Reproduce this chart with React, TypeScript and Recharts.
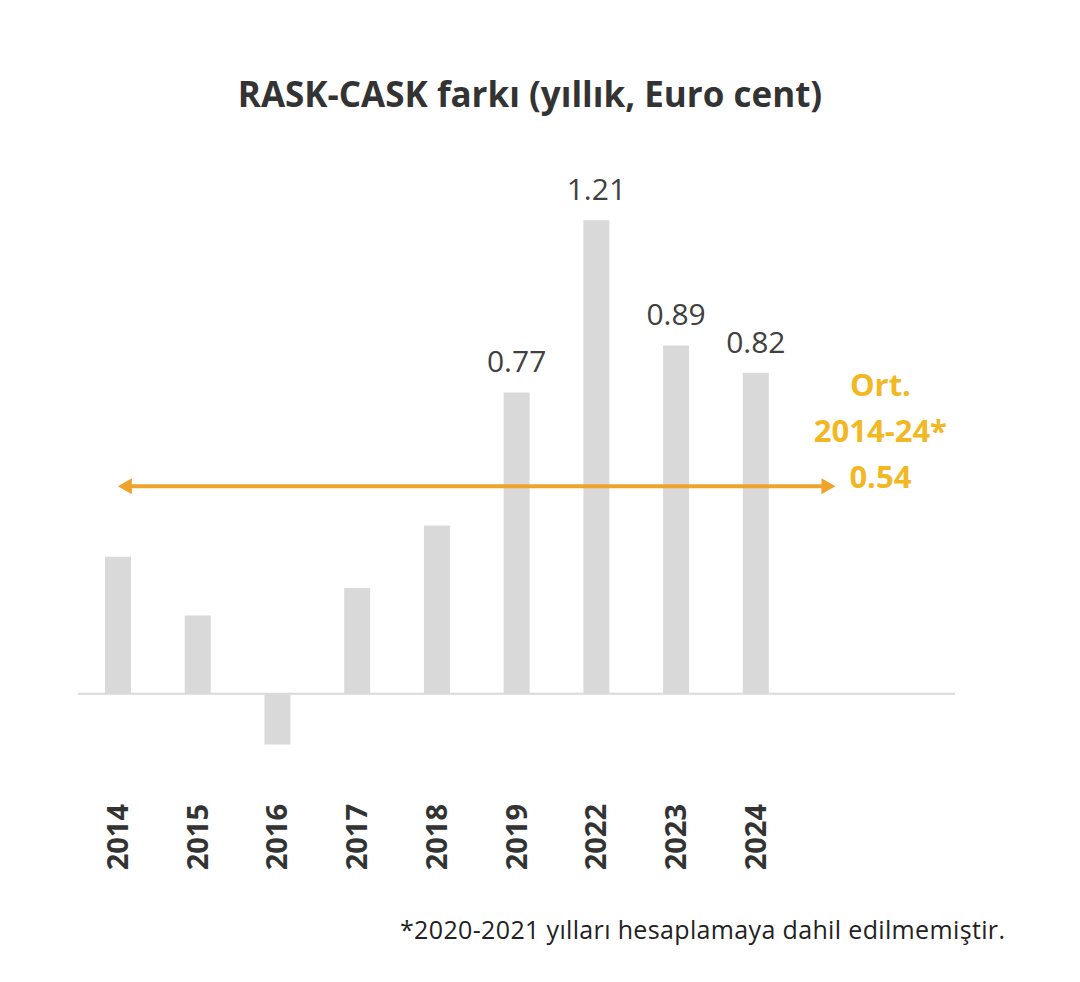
import { ComposedChart, Bar, XAxis, YAxis, ReferenceLine, LabelList } from "recharts"

const years = ["2014", "2015", "2016", "2017", "2018", "2019", "2022", "2023", "2024", " ", "  "]
const spread = [0.35, 0.2, -0.13, 0.27, 0.43, 0.77, 1.21, 0.89, 0.82, null, null]
const labelledYears = ["2019", "2022", "2023", "2024"]
const average = 0.53
const averageLabel = ["Ort.", "2014-24*", "0.54"]

const data = years.map((year, i) => ({ year, value: spread[i] }))

const FONT = "'Open Sans', sans-serif"
const ORANGE = "#F0A32A"
const GOLD = "#F2B824"

// rotated year labels under the plot
const YearTick = (props: any) => {
  const { x, y, payload } = props
  if (!payload.value.trim()) return null
  return (
    <text
      x={0}
      y={0}
      transform={`translate(${x + 10},${y + 24}) rotate(-90)`}
      textAnchor="end"
      fontFamily={FONT}
      fontWeight={700}
      fontSize={29}
      fill="#333"
    >
      {payload.value}
    </text>
  )
}

const ValueLabel = (props: any) => {
  const { x, y, width, value, index } = props
  if (!labelledYears.includes(years[index])) return null
  return (
    <text x={x + width / 2} y={y - 20} textAnchor="middle" fontFamily={FONT} fontSize={30} fill="#404040">
      {value.toFixed(2)}
    </text>
  )
}

// double-headed arrow + text on the right
const AverageArrow = (props: any) => {
  const { x1, y1, x2, y2 } = props
  const head = 14
  return (
    <g>
      <line x1={x1 + 6} y1={y1} x2={x2 - 6} y2={y2} stroke={ORANGE} strokeWidth={4} />
      <polygon points={`${x1},${y1} ${x1 + head},${y1 - 8} ${x1 + head},${y1 + 8}`} fill={ORANGE} />
      <polygon points={`${x2},${y2} ${x2 - head},${y2 - 8} ${x2 - head},${y2 + 8}`} fill={ORANGE} />
      {averageLabel.map((t, i) => (
        <text
          key={t}
          x={x2 + 45}
          y={y2 - 90 + i * 46}
          textAnchor="middle"
          fontFamily={FONT}
          fontWeight={700}
          fontSize={31}
          fill={GOLD}
        >
          {t}
        </text>
      ))}
    </g>
  )
}

export default function App() {
  return (
    <div style={{ position: "absolute", left: 0, top: 0, width: 1080, height: 982, background: "#fff", fontFamily: FONT }}>
      <div
        style={{
          position: "absolute",
          top: 70,
          left: 0,
          width: 1060,
          textAlign: "center",
          fontSize: 35,
          fontWeight: 700,
          color: "#333",
        }}
      >
        RASK-CASK farkı (yıllık, Euro cent)
      </div>
      <ComposedChart
        width={1080}
        height={982}
        data={data}
        margin={{ top: 185, right: 125, left: 78, bottom: 110 }}
      >
        <XAxis dataKey="year" axisLine={false} tickLine={false} tick={<YearTick />} height={100} interval={0} />
        <YAxis hide domain={[-0.2, 1.3]} />
        <ReferenceLine y={0} stroke="#D9D9D9" strokeWidth={2} />
        <Bar dataKey="value" fill="#D9D9D9" barSize={26} isAnimationActive={false}>
          <LabelList dataKey="value" content={<ValueLabel />} />
        </Bar>
        <ReferenceLine
          segment={[
            { x: years[0], y: average },
            { x: years[9], y: average },
          ]}
          shape={<AverageArrow />}
        />
      </ComposedChart>
      <div style={{ position: "absolute", top: 912, left: 400, fontSize: 25, letterSpacing: 0.35, color: "#222" }}>
        *2020-2021 yılları hesaplamaya dahil edilmemiştir.
      </div>
    </div>
  )
}
